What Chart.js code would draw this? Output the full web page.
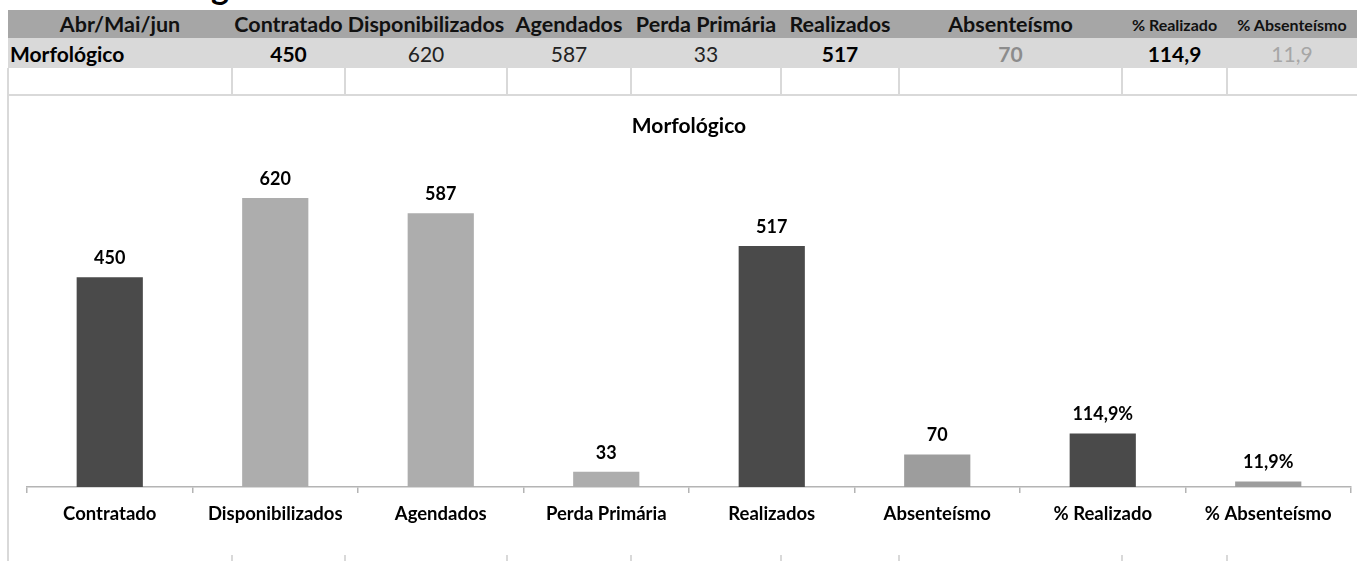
<!DOCTYPE html>
<html><head><meta charset="utf-8">
<script src="https://cdn.jsdelivr.net/npm/chart.js@4.4.1/dist/chart.umd.min.js"></script>
<style>
html,body{margin:0;padding:0;background:#fff;}
body{width:1357px;height:561px;overflow:hidden;position:relative;font-family:Lato,"Open Sans",sans-serif;color:#000;}
#heading{position:absolute;left:0;top:0;width:1357px;height:10px;overflow:hidden;}
#heading span{position:absolute;left:88px;top:-31px;font-size:34px;font-weight:700;line-height:34px;white-space:nowrap;}
.band{position:absolute;left:8px;width:1349px;}
#hdr{top:10px;height:28px;background:#a6a6a6;}
#dat{top:38px;height:30px;background:#d9d9d9;}
.cell{position:absolute;top:0;height:100%;display:flex;align-items:center;justify-content:center;white-space:nowrap;}
.vl{position:absolute;width:2px;background:#d9d9d9;}
#hline{position:absolute;left:8px;top:94px;width:1349px;height:2px;background:#d9d9d9;}
#lborder{position:absolute;left:7px;top:68px;width:2px;height:493px;background:#d9d9d9;}
#chartBox{position:absolute;left:9px;top:96px;width:1348px;height:459px;background:#fff;}
</style></head>
<body>
<div id="heading"><span>Morfológico</span></div>
<div id="hdr" class="band"></div>
<div id="dat" class="band"></div>
<div id="hline"></div>
<div id="lborder"></div>
<div id="chartBox"><canvas id="c" width="1348" height="459"></canvas></div>
<script>
// ---- data ----
const periodLabel = 'Abr/Mai/jun';
const rowLabel = 'Morfológico';
const categories = ['Contratado','Disponibilizados','Agendados','Perda Primária','Realizados','Absenteísmo','% Realizado','% Absenteísmo'];
const values = [450, 620, 587, 33, 517, 70, 114.9, 11.9];
const units = ['', '', '', '', '', '', '%', '%'];

// ---- table (spreadsheet area) ----
const colEdges = [8, 232, 345, 507, 631, 781, 899, 1122, 1227, 1357];
const hdrSizes = [21.5, 21.5, 21.5, 21.5, 21.5, 21.5, 21.5, 16, 16];
const datStyles = [
  {w:700,c:'#000',a:'flex-start'}, {w:700,c:'#000'}, {w:400,c:'#222'}, {w:400,c:'#222'}, {w:400,c:'#222'},
  {w:700,c:'#000'}, {w:700,c:'#8c8c8c'}, {w:700,c:'#000'}, {w:400,c:'#a6a6a6'}
];
function fmtTable(v){ return Number.isInteger(v) ? String(v) : v.toFixed(1).replace('.', ','); }
function fmtLabel(v,u){ return (Number.isInteger(v) ? String(v) : v.toFixed(1).replace('.', ',')) + u; }
const hdrTexts = [periodLabel].concat(categories);
const datTexts = [rowLabel].concat(values.map(fmtTable));
const hdr = document.getElementById('hdr'), dat = document.getElementById('dat');
for (let i = 0; i < hdrTexts.length; i++) {
  const l = colEdges[i] - 8, w = colEdges[i+1] - colEdges[i];
  const h = document.createElement('div');
  h.className = 'cell'; h.style.left = l + 'px'; h.style.width = w + 'px';
  h.style.fontSize = hdrSizes[i] + 'px'; h.style.fontWeight = 700; h.style.color = '#111';
  h.textContent = hdrTexts[i]; hdr.appendChild(h);
  const d = document.createElement('div');
  d.className = 'cell'; d.style.left = l + 'px'; d.style.width = w + 'px';
  d.style.fontSize = '21px'; d.style.fontWeight = datStyles[i].w; d.style.color = datStyles[i].c;
  if (datStyles[i].a) { d.style.justifyContent = datStyles[i].a; d.style.paddingLeft = '2px'; d.style.boxSizing='border-box'; }
  d.textContent = datTexts[i]; dat.appendChild(d);
}
for (let i = 1; i < colEdges.length - 1; i++) {
  [[68, 26], [555, 6]].forEach(([t, hh]) => {
    const v = document.createElement('div'); v.className = 'vl';
    v.style.left = (colEdges[i] - 1) + 'px'; v.style.top = t + 'px'; v.style.height = hh + 'px';
    document.body.appendChild(v);
  });
}

// ---- chart ----
const DARK = '#4a4a4a', LIGHT = '#adadad', MID = '#9d9d9d';
const barColors = [DARK, LIGHT, LIGHT, LIGHT, DARK, MID, DARK, MID];
const FONT = 'Lato, "Open Sans", sans-serif';

const valueLabels = {
  id: 'valueLabels',
  afterDatasetsDraw(chart) {
    const ctx = chart.ctx;
    const meta = chart.getDatasetMeta(0);
    ctx.save();
    ctx.font = 'bold 18px ' + FONT;
    ctx.fillStyle = '#000';
    ctx.textAlign = 'center';
    ctx.textBaseline = 'middle';
    meta.data.forEach((bar, i) => {
      ctx.fillText(fmtLabel(values[i], units[i]), bar.x, bar.y - 19);
    });
    ctx.restore();
  }
};

new Chart(document.getElementById('c'), {
  type: 'bar',
  data: {
    labels: categories,
    datasets: [{
      data: values,
      backgroundColor: barColors,
      borderWidth: 0,
      barPercentage: 0.4,
      categoryPercentage: 1.0
    }]
  },
  options: {
    responsive: false,
    animation: false,
    devicePixelRatio: 1,
    layout: { padding: { left: 18, right: 6, top: 0, bottom: 19.9 } },
    plugins: {
      legend: { display: false },
      tooltip: { enabled: false },
      title: {
        display: true,
        text: rowLabel,
        color: '#000',
        font: { family: FONT, size: 21, weight: 'bold', lineHeight: 1.2 },
        padding: { top: 17.4, bottom: 22 }
      }
    },
    scales: {
      y: { display: false, min: 0, max: 700 },
      x: {
        offset: true,
        border: { display: true, color: '#b4b4b4', width: 1.5 },
        grid: { display: true, drawOnChartArea: false, drawTicks: true, tickLength: 6, color: '#b4b4b4', lineWidth: 1.5, offset: true },
        ticks: { color: '#000', padding: 9.9, font: { family: FONT, size: 18.5, weight: 'bold', lineHeight: 1.2 }, maxRotation: 0, autoSkip: false }
      }
    }
  },
  plugins: [valueLabels]
});
</script>
</body></html>
